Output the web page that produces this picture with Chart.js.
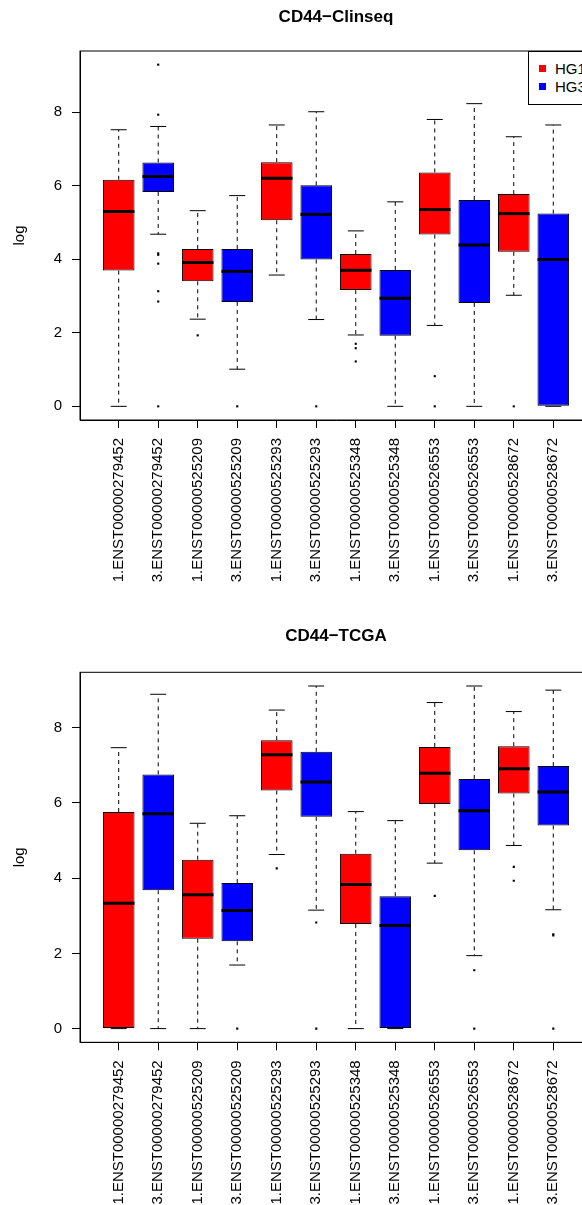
<!DOCTYPE html>
<html>
<head>
<meta charset="utf-8">
<script src="https://cdn.jsdelivr.net/npm/chart.js@4.4.1/dist/chart.umd.min.js"></script>
<style>
  html, body { margin: 0; padding: 0; background: #fff; overflow: hidden; }
  #page { position: relative; width: 582px; height: 1205px; overflow: hidden; }
  canvas { position: absolute; left: 0; }
  #c1 { top: 0; }
  #c2 { top: 600px; }
  .legend { position: absolute; left: 528px; top: 51px; width: 80px; height: 52px;
            border: 1px solid #000; background: #fff;
            font: 15px 'Liberation Sans', Arial, sans-serif; color: #000; }
  .legend div { position: absolute; left: 26px; line-height: 17px; }
  .legend span { position: absolute; left: -16px; top: 5px; width: 7px; height: 7px; }
</style>
</head>
<body>
<div id="page">
  <canvas id="c1" width="600" height="600"></canvas>
  <canvas id="c2" width="600" height="605"></canvas>
  <div class="legend">
    <div style="top:8px"><span style="background:#FF0000"></span>HG1</div>
    <div style="top:26px"><span style="background:#0000FF"></span>HG3</div>
  </div>
</div>
<script>
const FONT = "'Liberation Sans', Arial, sans-serif";

// boxes, left to right
const transcripts = ['1.ENST00000279452', '3.ENST00000279452', '1.ENST00000525209', '3.ENST00000525209',
                     '1.ENST00000525293', '3.ENST00000525293', '1.ENST00000525348', '3.ENST00000525348',
                     '1.ENST00000526553', '3.ENST00000526553', '1.ENST00000528672', '3.ENST00000528672'];
const groups = ['HG1', 'HG3', 'HG1', 'HG3', 'HG1', 'HG3', 'HG1', 'HG3', 'HG1', 'HG3', 'HG1', 'HG3'];
const yTicks = [0, 2, 4, 6, 8];

// CD44-Clinseq
const clinLow  = [0, 4.68, 2.37, 1.01, 3.57, 2.36, 1.94, 0, 2.20, 0, 3.02, 0];
const clinQ1   = [3.69, 5.83, 3.40, 2.84, 5.06, 3.99, 3.16, 1.92, 4.67, 2.81, 4.20, 0];
const clinMed  = [5.30, 6.25, 3.91, 3.67, 6.20, 5.22, 3.70, 2.94, 5.35, 4.39, 5.24, 3.99];
const clinQ3   = [6.16, 6.63, 4.28, 4.28, 6.64, 6.01, 4.14, 3.71, 6.36, 5.61, 5.77, 5.24];
const clinHigh = [7.52, 7.61, 5.32, 5.73, 7.65, 8.01, 4.77, 5.56, 7.80, 8.23, 7.33, 7.65];
const clinOut  = [[], [9.29, 7.93, 4.16, 4.12, 3.88, 3.13, 2.85, 0], [1.93], [0], [], [0],
                  [1.70, 1.58, 1.22], [], [0.82, 0], [], [0], []];

// CD44-TCGA
const tcgaLow  = [0, 0, 0, 1.69, 4.63, 3.15, 0, 0, 4.40, 1.94, 4.87, 3.16];
const tcgaQ1   = [0, 3.68, 2.39, 2.32, 6.33, 5.63, 2.78, 0, 5.97, 4.74, 6.25, 5.40];
const tcgaMed  = [3.33, 5.71, 3.56, 3.14, 7.28, 6.56, 3.83, 2.74, 6.79, 5.79, 6.91, 6.29];
const tcgaQ3   = [5.76, 6.76, 4.49, 3.87, 7.67, 7.36, 4.65, 3.52, 7.49, 6.64, 7.51, 6.98];
const tcgaHigh = [7.47, 8.89, 5.46, 5.66, 8.47, 9.11, 5.77, 5.53, 8.67, 9.11, 8.43, 9.00];
const tcgaOut  = [[], [], [], [0], [4.26], [2.82, 0], [], [], [3.53], [1.55, 0], [4.30, 3.93], [2.51, 2.48, 0]];

const groupColor = { HG1: '#FF0000', HG3: '#0000FF' };

// box around the plot region, like R's bty="o"
const frame = {
  id: 'frame',
  afterDatasetsDraw(chart) {
    const { ctx, chartArea: a } = chart;
    ctx.save();
    ctx.strokeStyle = '#000';
    ctx.lineWidth = 1;
    ctx.strokeRect(a.left, a.top, a.right - a.left, a.bottom - a.top);
    ctx.restore();
  }
};

// R centres main titles over the plot region, not the whole device
const plotTitle = {
  id: 'plotTitle',
  afterDraw(chart, args, opts) {
    const { ctx, chartArea: a } = chart;
    ctx.save();
    ctx.font = 'bold 17px ' + FONT;
    ctx.fillStyle = '#000';
    ctx.textAlign = 'center';
    ctx.textBaseline = 'middle';
    ctx.fillText(opts.text, (a.left + a.right) / 2, opts.y);
    ctx.restore();
  }
};

function boxChart(id, title, low, q1, med, q3, high, out, pad) {
  const n = transcripts.length;
  const vals = low.concat(high, ...out);
  const lo = Math.min(...vals), hi = Math.max(...vals);
  const ext = 0.04 * (hi - lo);

  const boxes = [], meds = [], caps = [], whisk = [], dots = [];
  transcripts.forEach((t, i) => {
    const x = i + 1;
    boxes.push({ x, y: [q1[i], q3[i]] });
    meds.push({ x, y: med[i] });
    caps.push({ x, y: low[i] }, { x, y: high[i] });
    whisk.push({ x, y: q3[i] }, { x, y: high[i] }, { x, y: null },
               { x, y: q1[i] }, { x, y: low[i] }, { x, y: null });
    out[i].forEach(v => dots.push({ x, y: v }));
  });

  const axisFont = { size: 15, family: FONT };

  return new Chart(document.getElementById(id), {
    type: 'scatter',
    data: {
      datasets: [
        { type: 'scatter', data: meds, pointStyle: 'line', pointRadius: 15.75,
          borderColor: '#000', pointBorderColor: '#000', pointBorderWidth: 3 },
        { type: 'scatter', data: dots, pointStyle: 'rect', pointRadius: 1.5,
          backgroundColor: '#000', pointBackgroundColor: '#000', pointBorderWidth: 0 },
        { type: 'scatter', data: caps, pointStyle: 'line', pointRadius: 8,
          borderColor: '#000', pointBorderColor: '#000', pointBorderWidth: 1 },
        { type: 'bar', data: boxes, backgroundColor: groups.map(g => groupColor[g]),
          borderColor: '#000', borderWidth: 1, borderSkipped: false,
          barPercentage: 0.8, categoryPercentage: 1, grouped: false },
        { type: 'line', data: whisk, borderColor: '#000', borderWidth: 1, borderDash: [4, 4],
          pointRadius: 0, spanGaps: false, fill: false }
      ]
    },
    options: {
      responsive: false,
      animation: false,
      events: [],
      // canvas is a bit wider than the page so the plot runs off the right edge
      layout: { autoPadding: false, padding: { left: 0, right: 8, top: pad.top, bottom: 0 } },
      plugins: {
        legend: { display: false },
        tooltip: { enabled: false },
        plotTitle: { text: title, y: pad.titleY }
      },
      scales: {
        x: {
          type: 'linear', offset: false,
          min: 0.5 - 0.04 * n, max: n + 0.5 + 0.04 * n,
          afterBuildTicks: s => { s.ticks = transcripts.map((t, i) => ({ value: i + 1 })); },
          afterFit: s => { s.height = pad.xAxis; },
          grid: { drawOnChartArea: false, tickLength: 8, tickColor: '#000', offset: false },
          border: { display: true, color: '#000' },
          ticks: { autoSkip: false, minRotation: 90, maxRotation: 90, padding: 10,
                   color: '#000', font: axisFont, callback: v => transcripts[v - 1] }
        },
        y: {
          type: 'linear',
          min: lo - ext, max: hi + ext,
          afterBuildTicks: s => { s.ticks = yTicks.map(v => ({ value: v })); },
          afterFit: s => { s.width = 80; },
          title: { display: true, text: 'log', color: '#000', font: axisFont,
                   padding: { top: 10.5, bottom: 0 } },
          grid: { drawOnChartArea: false, tickLength: 8, tickColor: '#000' },
          border: { display: true, color: '#000' },
          ticks: { padding: 10, color: '#000', font: axisFont }
        }
      }
    },
    plugins: [frame, plotTitle]
  });
}

boxChart('c1', 'CD44\u2212Clinseq', clinLow, clinQ1, clinMed, clinQ3, clinHigh, clinOut,
         { top: 51, titleY: 17.5, xAxis: 180 });
boxChart('c2', 'CD44\u2212TCGA', tcgaLow, tcgaQ1, tcgaMed, tcgaQ3, tcgaHigh, tcgaOut,
         { top: 72.3, titleY: 36.7, xAxis: 162.7 });
</script>
</body>
</html>
